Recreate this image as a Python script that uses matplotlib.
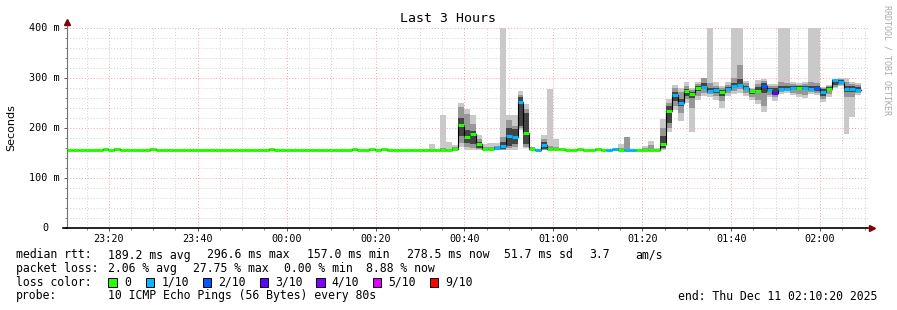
import numpy as np
import matplotlib.pyplot as plt
from matplotlib.patches import Rectangle
from matplotlib.ticker import MultipleLocator

# Median rtt per 80 s step (ms), first step starts 23:10:36
first_sample_min = -(49 * 60 + 24) / 60.0   # minutes relative to 00:00
step_s = 80

median = [
    157, 157, 157, 157, 157, 157, 158.5, 157, 158.5, 157,
    157, 157, 157, 157, 158.5, 157, 157, 157, 157, 157,
    157, 157, 157, 157, 157, 157, 157, 157, 157, 157,
    157, 157, 157, 157, 158.5, 157, 157, 157, 157, 157,
    157, 157, 157, 157, 157, 157, 157, 157, 158.5, 157,
    157, 158.5, 157, 158.5, 157, 157, 157, 157, 157, 157,
    157, 157, 157, 157, 157, 158, 207, 182, 189, 169,
    159, 158, 160, 164, 184, 183, 253, 191, 159, 156,
    167, 159, 158, 158, 157, 157, 158.5, 157, 157, 158.5,
    157, 157, 158, 157, 157, 157, 157, 157, 157, 157,
    168, 235, 267, 251, 274, 269, 281, 283, 275, 276,
    272, 279, 285, 287, 281, 274, 274, 284, 277, 271,
    279, 279, 280, 281, 281, 279, 281, 273, 279, 296,
    292, 279, 279, 277, np.nan,
]

# lost pings (out of 10) per step
loss = [0] * 135
for k in [72, 73, 74, 75, 76, 79, 80, 91, 92, 94, 95, 102, 103, 107, 108, 109,
          111, 112, 113, 114, 118, 120, 121, 122, 124, 125, 127, 129, 130, 131, 132, 133]:
    loss[k] = 1
loss[117] = 2
loss[126] = 2
loss[119] = 3

# smoke: step index, outer (min/max), middle and inner ping ranges (ms)
smoke_k = [8, 61, 63, 64, 65, 66, 67, 68, 69, 70, 71, 72, 73, 74, 75, 76, 77, 78,
           80, 81, 82, 83, 93, 94, 97, 98, 99, 100, 101, 102, 103, 104, 105, 106,
           107, 108, 109, 110, 111, 112, 113, 114, 115, 116, 117, 118, 119, 120,
           121, 122, 123, 124, 125, 126, 127, 128, 129, 130, 131, 132, 133]
outer_lo = [157, 156, 156, 156, 156, 163, 157, 157, 157, 157, 157, 156, 156, 156, 157, 196, 160, 157,
            156, 157, 157, 157, 157, 157, 157, 157, 157, 157, 193, 237, 215, 251, 193, 257,
            264, 262, 256, 240, 265, 268, 270, 264, 256, 249, 233, 262, 255, 268,
            270, 266, 262, 260, 268, 266, 253, 262, 280, 284, 189, 223, 266]
outer_hi = [161, 168, 227, 173, 166, 251, 239, 227, 187, 168, 171, 171, 410, 227, 227, 275, 248, 163,
            186, 278, 179, 161, 168, 183, 164, 174, 160, 218, 258, 286, 280, 293, 280, 292,
            301, 410, 293, 285, 293, 410, 410, 295, 280, 296, 298, 288, 288, 410,
            410, 292, 290, 292, 410, 410, 283, 287, 298, 300, 300, 292, 290]
mid_lo = [157, 157, 157, 157, 157, 170, 162, 160, 158, 157, 157, 157, 157, 160, 162, 200, 163, 157,
          157, 157, 157, 157, 157, 157, 157, 157, 157, 158, 200, 245, 230, 258, 240, 265,
          270, 268, 265, 255, 270, 275, 278, 270, 262, 256, 245, 266, 262, 272,
          274, 270, 268, 266, 272, 270, 258, 268, 282, 286, 262, 262, 270]
mid_hi = [157, 158, 160, 159, 162, 243, 228, 208, 178, 163, 163, 165, 182, 216, 205, 266, 238, 162,
          178, 165, 162, 157, 160, 183, 160, 166, 157, 200, 250, 280, 272, 285, 276, 288,
          301, 290, 285, 280, 286, 300, 326, 290, 278, 288, 295, 284, 284, 292,
          290, 288, 286, 288, 292, 290, 280, 284, 297, 298, 292, 288, 286]
dark_lo = [157, 157, 157, 157, 157, 185, 170, 168, 160, 157, 157, 158, 158, 165, 168, 205, 168, 157,
           158, 157, 157, 157, 157, 157, 157, 157, 157, 160, 210, 255, 245, 265, 260, 275,
           278, 270, 270, 265, 274, 280, 282, 276, 268, 270, 270, 272, 268, 276,
           276, 276, 276, 276, 276, 275, 265, 274, 286, 288, 272, 272, 273]
dark_hi = [157, 157, 157, 157, 160, 220, 196, 195, 172, 160, 159, 162, 172, 200, 198, 262, 230, 160,
           172, 160, 157, 157, 157, 157, 157, 157, 157, 185, 245, 272, 258, 278, 272, 284,
           290, 280, 280, 276, 283, 290, 298, 285, 277, 282, 290, 281, 280, 284,
           284, 284, 285, 285, 284, 285, 278, 283, 296, 296, 285, 284, 282]

loss_keys = [0, 1, 2, 3, 4, 5, 9]
loss_labels = ["0", "1/10", "2/10", "3/10", "4/10", "5/10", "9/10"]
loss_colors = ["#26ff00", "#00b8ff", "#0059ff", "#5e00ff", "#7e00ff", "#dd00ff", "#ff0000"]

x_labels = ["23:20", "23:40", "00:00", "00:20", "00:40", "01:00", "01:20", "01:40", "02:00"]
x_label_pos = [-40, -20, 0, 20, 40, 60, 80, 100, 120]
y_ticks = [0, 100, 200, 300, 400]
y_labels = ["0", "100 m", "200 m", "300 m", "400 m"]

W, H = 897, 310
mono = "DejaVu Sans Mono"
fig = plt.figure(figsize=(W / 100, H / 100), dpi=100)
fig.patch.set_facecolor("white")
ax = fig.add_axes([67 / W, 1 - 228 / H, 801 / W, 200 / H])

step = step_s / 60.0
t = first_sample_min + np.arange(len(median)) * step
med = np.array(median, dtype=float)
sk = np.array(smoke_k)

# smoke layers
for lo, hi, col in [(outer_lo, outer_hi, "#c9c9c9"),
                    (mid_lo, mid_hi, "#979797"),
                    (dark_lo, dark_hi, "#444444")]:
    lo = np.array(lo, float)
    hi = np.array(hi, float)
    ax.bar(t[sk], hi - lo, bottom=lo, width=step, align="edge",
           color=col, linewidth=0, zorder=2)

# thin black median step line, then loss coloured segments
ax.step(t, med, where="post", color="black", lw=0.8, zorder=3)
ok = ~np.isnan(med)
seg_cols = []
for c in np.array(loss)[ok]:
    idx = max(i for i, kk in enumerate(loss_keys) if kk <= c)
    seg_cols.append(loss_colors[idx])
ax.hlines(med[ok], t[ok], t[ok] + step, colors=seg_cols, lw=2.2, zorder=4)

ax.set_xlim(first_sample_min, first_sample_min + 801 / 4.446)
ax.set_ylim(0, 400)

ax.set_xticks(x_label_pos)
ax.set_xticklabels(x_labels, fontfamily=mono, fontsize=7.3)
ax.xaxis.set_minor_locator(MultipleLocator(5))
ax.set_yticks(y_ticks)
ax.set_yticklabels([])
ax.yaxis.set_minor_locator(MultipleLocator(20))
for v, lab in zip(y_ticks, y_labels):
    off = -5.0 if lab != "0" else -13.6
    ax.annotate(lab, (0, v), xycoords=("axes fraction", "data"), xytext=(off, 0),
                textcoords="offset points", ha="right", va="center",
                fontfamily=mono, fontsize=7.3)

ax.grid(which="major", color="#f5a5a5", linestyle=(0, (1, 2)), lw=0.7)
ax.grid(which="minor", color="#d2d2d2", linestyle=(0, (1, 2)), lw=0.7)
ax.set_axisbelow(True)

for s in ["top", "right"]:
    ax.spines[s].set_visible(False)
ax.spines["left"].set_color("#707070")
ax.spines["left"].set_linewidth(0.8)
ax.spines["bottom"].set_color("black")
ax.spines["bottom"].set_linewidth(1.2)
ax.tick_params(axis="x", which="major", length=2.5, width=0.7, pad=2, color="#555555")
ax.tick_params(axis="x", which="minor", length=1.5, width=0.7, color="#888888")
ax.tick_params(axis="y", which="major", length=2.5, width=0.7, color="#555555")
ax.tick_params(axis="y", which="minor", length=1.5, width=0.7, color="#888888")

# axis arrows
ax.plot([0, 0], [1, 1.025], transform=ax.transAxes, color="#707070", lw=0.8, clip_on=False)
ax.plot([0], [1.03], marker="^", ms=4, color="#800000", transform=ax.transAxes, clip_on=False)
ax.plot([-0.005, 0], [0, 0], transform=ax.transAxes, color="black", lw=1.2, clip_on=False)
ax.plot([1.005], [0], marker=">", ms=4, color="#800000", transform=ax.transAxes, clip_on=False)

fig.text(448 / W, 1 - 19 / H, "Last 3 Hours", ha="center", va="center",
         fontfamily=mono, fontsize=9.5)
fig.text(11 / W, 1 - 128 / H, "Seconds", rotation=90, ha="center", va="center",
         fontfamily="DejaVu Sans", fontsize=8)
fig.text(887 / W, 1 - 60 / H, "RRDTOOL / TOBI OETIKER", rotation=270, ha="center",
         va="center", fontfamily=mono, fontsize=6, color="#aaaaaa")

# legend block
fs = 8.3
def put(px, py, s):
    fig.text(px / W, 1 - py / H, s, ha="left", va="center", fontfamily=mono, fontsize=fs)

put(16, 255, "median rtt:")
for px, s in [(107.7, "189.2 ms avg"), (207.3, "296.6 ms max"), (307.3, "157.0 ms min"),
              (407, "278.5 ms now"), (504, "51.7 ms sd"), (589, "3.7"), (635, "am/s")]:
    put(px, 255, s)
put(16, 268.5, "packet loss:")
for px, s in [(107.7, "2.06 % avg"), (193, "27.75 % max"), (284, "0.00 % min"),
              (366, "8.88 % now")]:
    put(px, 268.5, s)
put(16, 282, "loss color:")
box_x = [108.3, 145.7, 202.7, 260, 316.3, 372.7, 430]
for bx, lab, col in zip(box_x, loss_labels, loss_colors):
    fig.patches.append(Rectangle((bx / W, 1 - 286.5 / H), 8.3 / W, 8.3 / H,
                                 transform=fig.transFigure, facecolor=col,
                                 edgecolor="black", lw=0.7))
    put(bx + 15.5, 282, lab)
put(16, 296, "probe:")
put(107.7, 296, "10 ICMP Echo Pings (56 Bytes) every 80s")
put(677.7, 296, "end: Thu Dec 11 02:10:20 2025")

fig.savefig("out.png", dpi=100, facecolor="white")
